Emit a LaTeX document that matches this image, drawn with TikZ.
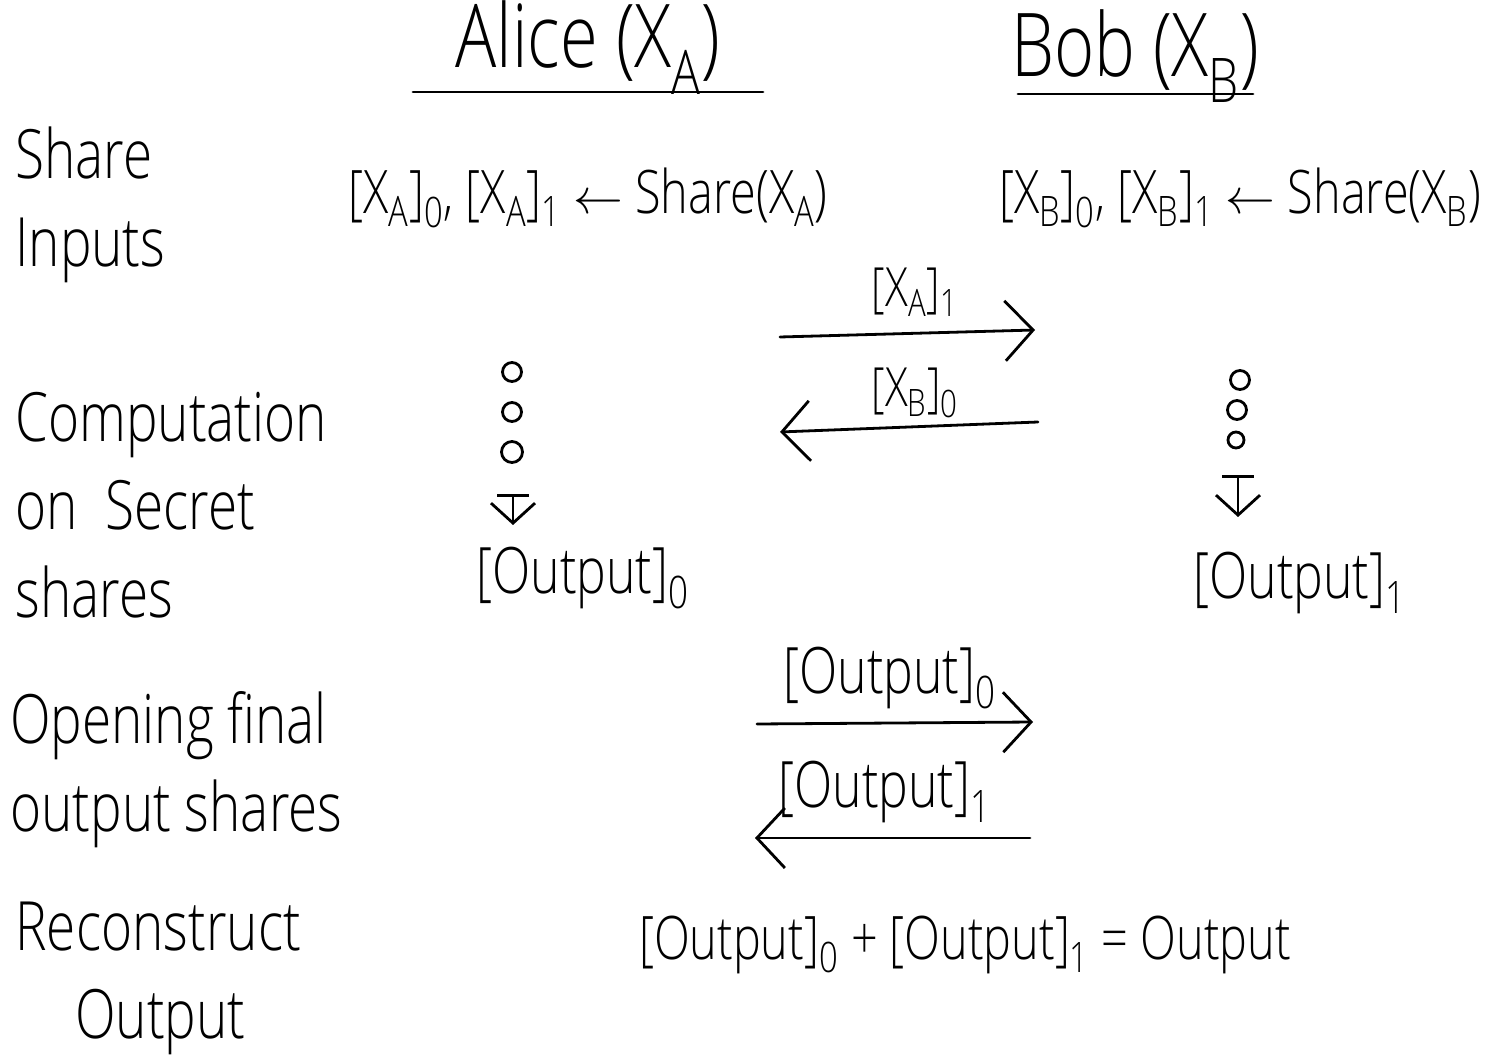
\documentclass[tikz,border=0pt]{standalone}
\usepackage{fontspec}
\setmainfont{Open Sans}[UprightFont={* Light},FakeStretch=0.78]
\usetikzlibrary{arrows.meta}
\newcommand\lsub[1]{\textsubscript{#1}}
\begin{document}
\begin{tikzpicture}[x=0.5pt,y=-0.5pt,
  ink/.style={line width=1.4pt,line cap=round,line join=round},
  msg/.style={ink,-{Straight Barb[length=14pt,width=30pt,line width=1.4pt]}},
  step down/.style={ink,{Bar[width=16pt,line width=1.4pt]}-{Straight Barb[length=10pt,width=22pt,line width=1.4pt]}},
  party/.style={inner sep=0pt,font=\fontsize{44}{50}\selectfont},
  phase/.style={inner sep=0pt,anchor=west,align=left,font=\fontsize{34}{44}\selectfont},
  body/.style={inner sep=0pt,font=\fontsize{30}{34}\selectfont},
  lbl/.style={inner sep=0pt,font=\fontsize{27}{32}\selectfont},
  outtxt/.style={inner sep=0pt,font=\fontsize{32}{36}\selectfont},
  dot/.style={ink,draw,circle,inner sep=0pt,minimum size=9.5pt}]
\useasboundingbox (0,0) rectangle (1499,1063);

% parties
\node[party] (alice) at (588,48) {Alice (X\lsub{A})};
\node[party] (bob) at (1135,56) {Bob (X\lsub{B})};
\coordinate (ua1) at (413,92); \coordinate (ua2) at (763,92);
\draw[ink] (ua1) -- (ua2);
\coordinate (ub1) at (1018,94); \coordinate (ub2) at (1253,94);
\draw[ink] (ub1) -- (ub2);

% phase labels
\node[phase] (ph1) at (15,205) {Share\\Inputs};
\node[phase] (ph2) at (15,505) {Computation\\on\ \ Secret\\shares};
\node[phase] (ph3) at (10,770) {Opening final\\output shares};
\node[phase] (ph4) at (15,978) {Reconstruct\\\hspace*{30pt}Output};

% sharing inputs
\node[body] (shA) at (588,198) {[X\lsub{A}]\lsub{0}, [X\lsub{A}]\lsub{1} $\leftarrow$ Share(X\lsub{A})};
\node[body] (shB) at (1240,198) {[X\lsub{B}]\lsub{0}, [X\lsub{B}]\lsub{1} $\leftarrow$ Share(X\lsub{B})};

% exchange of shares
\coordinate (m1s) at (780,337); \coordinate (m1e) at (1035,330);
\draw[msg] (m1s) -- (m1e);
\node[lbl] (m1l) at (915,292) {[X\lsub{A}]\lsub{1}};
\coordinate (m2s) at (1038,422); \coordinate (m2e) at (780,432);
\draw[msg] (m2s) -- (m2e);
\node[lbl] (m2l) at (915,393) {[X\lsub{B}]\lsub{0}};

% local computation
\node[dot] (a1) at (512,372) {};
\node[dot] (a2) at (512,412) {};
\node[dot,minimum size=10.5pt] (a3) at (512,452) {};
\coordinate (as) at (513,494); \coordinate (ae) at (513,525);
\draw[step down] (as) -- (ae);
\node[dot] (b1) at (1240,380) {};
\node[dot] (b2) at (1237,410) {};
\node[dot,minimum size=8pt] (b3) at (1236,440) {};
\coordinate (bs) at (1238,475); \coordinate (be) at (1238,517);
\draw[step down] (bs) -- (be);
\node[outtxt] (oA) at (583,578) {[Output]\lsub{0}};
\node[outtxt] (oB) at (1300,583) {[Output]\lsub{1}};

% opening output shares
\coordinate (m3s) at (757,724); \coordinate (m3e) at (1033,722);
\draw[msg] (m3s) -- (m3e);
\node[outtxt] (m3l) at (890,678) {[Output]\lsub{0}};
\coordinate (m4s) at (1030,838); \coordinate (m4e) at (755,838);
\draw[msg] (m4s) -- (m4e);
\node[outtxt] (m4l) at (885,792) {[Output]\lsub{1}};

% reconstruction
\node[body] (rec) at (965,945) {[Output]\lsub{0} + [Output]\lsub{1} = Output};
\end{tikzpicture}
\end{document}
